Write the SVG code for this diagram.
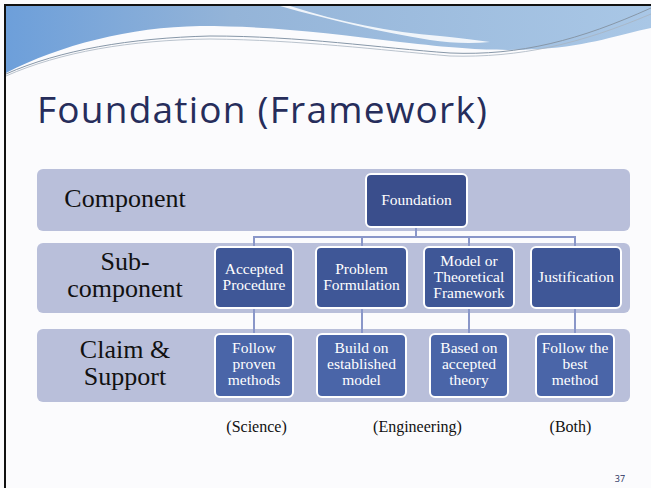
<svg xmlns="http://www.w3.org/2000/svg" width="651" height="488" viewBox="0 0 651 488">
<defs>
<linearGradient id="topg" x1="0" y1="0" x2="1" y2="0">
<stop offset="0" stop-color="#6d9fda"/>
<stop offset="0.35" stop-color="#94b4d8"/>
<stop offset="1" stop-color="#a9c7e6"/>
</linearGradient>
<style>
.band{fill:#b9bfda;}
.sub{fill:#3f5797;stroke:#ffffff;stroke-width:2;}
.top{fill:#3a4e8c;stroke:#ffffff;stroke-width:2;}
.clm{fill:#4a65a8;stroke:#ffffff;stroke-width:2;}
.bt{font-family:"Liberation Serif",serif;font-size:15.5px;fill:#ffffff;text-anchor:middle;}
.lbl{font-family:"Liberation Serif",serif;font-size:26px;fill:#111111;text-anchor:middle;}
.cap{font-family:"Liberation Serif",serif;font-size:16px;fill:#111111;text-anchor:middle;}
.con{stroke:#8a97c9;stroke-width:2;fill:none;}
</style>
</defs>
<rect x="0" y="0" width="651" height="488" fill="#fbfbfd"/>
<!-- top wave -->
<path d="M6,6 H651 V28 C620,34 590,46 540,49 C500,51 470,50 400,42 C330,33 270,26 200,26 C130,27 60,45 6,73 Z" fill="url(#topg)"/>
<path d="M290,6 C340,22 390,32 440,36 C460,38 475,40 490,42 C470,44 450,43 430,40 C380,32 330,20 280,6 Z" fill="#ffffff" opacity="0.85"/>
<path d="M6,74 C60,50 130,38 210,36 C300,36 380,48 450,53 C520,56 580,40 651,8" fill="none" stroke="#8797a8" stroke-width="1"/>
<path d="M6,76 C60,52 130,40 210,39 C300,40 380,50 450,56 C520,58 580,44 651,14" fill="none" stroke="#a8b4c0" stroke-width="0.8"/>
<rect x="4" y="4" width="647" height="2" fill="#111111"/>
<rect x="4" y="4" width="2" height="484" fill="#111111"/>
<text x="37" y="123" font-family="'Open Sans',sans-serif" font-size="37" fill="#262d5b" textLength="450">Foundation (Framework)</text>
<!-- bands -->
<g id="band-component"><rect class="band" x="37" y="169" width="593" height="62" rx="6"/><text class="lbl" x="125" y="207">Component</text></g>
<g id="band-subcomponent"><rect class="band" x="37" y="243" width="593" height="70" rx="6"/><text class="lbl" x="125" y="270">Sub-</text><text class="lbl" x="125" y="297">component</text></g>
<g id="band-claim"><rect class="band" x="37" y="329" width="593" height="73" rx="6"/><text class="lbl" x="125" y="358">Claim &amp;</text><text class="lbl" x="125" y="385">Support</text></g>
<!-- connectors -->
<g id="connectors">
<path class="con" d="M416,227 V237 M254,248 V237 H575 V248 M362,237 V248 M469,237 V248"/>
<path class="con" d="M254,308 V334 M362,308 V334 M469,308 V334 M575,308 V334"/>
</g>
<!-- nodes -->
<g id="foundation"><rect class="top" x="366" y="174" width="101" height="53" rx="5"/><text class="bt" x="416.5" y="205" font-size="17.5">Foundation</text></g>
<g id="accepted-procedure"><rect class="sub" x="215" y="247" width="78" height="61" rx="5"/><text class="bt" x="254" y="274">Accepted</text><text class="bt" x="254" y="290">Procedure</text></g>
<g id="problem-formulation"><rect class="sub" x="316" y="247" width="91" height="61" rx="5"/><text class="bt" x="361.5" y="274">Problem</text><text class="bt" x="361.5" y="290">Formulation</text></g>
<g id="model-framework"><rect class="sub" x="424" y="247" width="90" height="61" rx="5"/><text class="bt" x="469" y="266">Model or</text><text class="bt" x="469" y="282">Theoretical</text><text class="bt" x="469" y="298">Framework</text></g>
<g id="justification"><rect class="sub" x="531" y="247" width="90" height="61" rx="5"/><text class="bt" x="576" y="282">Justification</text></g>
<g id="follow-proven"><rect class="clm" x="215" y="334" width="78" height="63" rx="5"/><text class="bt" x="254" y="353">Follow</text><text class="bt" x="254" y="369">proven</text><text class="bt" x="254" y="385">methods</text></g>
<g id="build-on"><rect class="clm" x="317" y="334" width="89" height="63" rx="5"/><text class="bt" x="361.5" y="353">Build on</text><text class="bt" x="361.5" y="369">established</text><text class="bt" x="361.5" y="385">model</text></g>
<g id="based-on"><rect class="clm" x="430" y="334" width="78" height="63" rx="5"/><text class="bt" x="469" y="353">Based on</text><text class="bt" x="469" y="369">accepted</text><text class="bt" x="469" y="385">theory</text></g>
<g id="follow-best"><rect class="clm" x="536" y="334" width="78" height="63" rx="5"/><text class="bt" x="575" y="353">Follow the</text><text class="bt" x="575" y="369">best</text><text class="bt" x="575" y="385">method</text></g>
<text class="cap" x="256.5" y="432">(Science)</text>
<text class="cap" x="417.5" y="432">(Engineering)</text>
<text class="cap" x="570.5" y="432">(Both)</text>
<text x="620" y="482" font-family="'Open Sans',sans-serif" font-size="9" fill="#262d5b" text-anchor="middle">37</text>
</svg>
